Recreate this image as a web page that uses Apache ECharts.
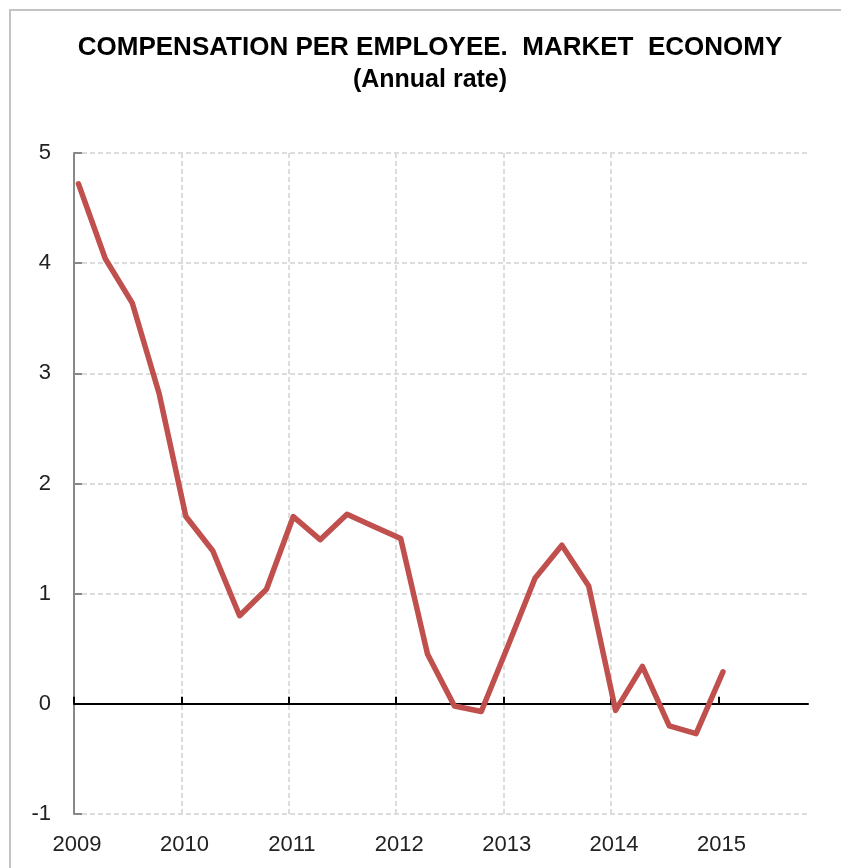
<!DOCTYPE html>
<html>
<head>
<meta charset="utf-8">
<script src="https://cdn.jsdelivr.net/npm/echarts@6/dist/echarts.min.js"></script>
<style>
  html, body { margin: 0; padding: 0; background: #ffffff; }
  #chart { width: 841px; height: 868px; }
</style>
</head>
<body>
<div id="chart"></div>
<script>
// ---- Data ----
const quarters = [
  '2009Q1','2009Q2','2009Q3','2009Q4',
  '2010Q1','2010Q2','2010Q3','2010Q4',
  '2011Q1','2011Q2','2011Q3','2011Q4',
  '2012Q1','2012Q2','2012Q3','2012Q4',
  '2013Q1','2013Q2','2013Q3','2013Q4',
  '2014Q1','2014Q2','2014Q3','2014Q4',
  '2015Q1'
];
const values = [
  4.72, 4.04, 3.64, 2.82,
  1.70, 1.39, 0.80, 1.04,
  1.70, 1.49, 1.72, 1.61,
  1.50, 0.45, -0.02, -0.07,
  0.53, 1.14, 1.44, 1.07,
  -0.06, 0.34, -0.20, -0.27,
  0.29
];
const yearLabels = ['2009','2010','2011','2012','2013','2014','2015'];
const yTicks = [-1, 0, 1, 2, 3, 4, 5];
const titleText = 'COMPENSATION PER EMPLOYEE.  MARKET  ECONOMY';
const subtitleText = '(Annual rate)';

// month offset from Jan 2009 (quarter's first month, mid-month)
function monthOf(q) {
  const y = parseInt(q.slice(0, 4), 10);
  const n = parseInt(q.slice(5), 10);
  return (y - 2009) * 12 + (n - 1) * 3 + 0.5;
}
const baseYear = parseInt(yearLabels[0], 10);
const yearTickValues = yearLabels.map(y => (parseInt(y, 10) - baseYear) * 12);
const seriesData = quarters.map((q, i) => [monthOf(q), values[i]]);

const chart = echarts.init(document.getElementById('chart'), null, { renderer: 'canvas' });
const fontFam = '"Liberation Sans", Arial, Helvetica, sans-serif';

chart.setOption({
  backgroundColor: '#ffffff',
  animation: false,
  graphic: [
    {
      type: 'polyline',
      shape: { points: [[10, 900], [10, 10], [900, 10]] },
      style: { stroke: '#c3c3c3', lineWidth: 2, fill: null },
      silent: true
    }
  ],
  title: [
    {
      text: titleText,
      left: 425, top: 30, textAlign: 'center',
      textStyle: { fontFamily: fontFam, fontWeight: 'bold', fontSize: 26, color: '#000' }
    },
    {
      text: subtitleText,
      left: 425, top: 63, textAlign: 'center',
      textStyle: { fontFamily: fontFam, fontWeight: 'bold', fontSize: 25, color: '#000' }
    }
  ],
  grid: { left: 74, right: 33, top: 153, bottom: 54, containLabel: false },
  xAxis: [
    {
      type: 'value', min: 0, max: 82, position: 'bottom',
      axisLine: { show: false, onZero: false },
      axisTick: { show: false, customValues: yearTickValues },
      axisLabel: {
        customValues: yearTickValues,
        formatter: v => String(baseYear + Math.round(v / 12)),
        fontFamily: fontFam, fontSize: 22, color: '#222', margin: 20,
        padding: [0, 0, 0, 6]
      },
      splitLine: {
        show: true, showMinLine: false, showMaxLine: false,
        lineStyle: { color: '#dcdcdc', width: 2, type: [5, 3] }
      }
    },
    {
      type: 'value', min: 0, max: 82, position: 'bottom', z: 1,
      axisLine: { show: true, onZero: true, lineStyle: { color: '#000', width: 2 } },
      axisTick: { show: true, inside: true, length: 7, customValues: yearTickValues, lineStyle: { color: '#000', width: 2 } },
      axisLabel: { show: false },
      splitLine: { show: false }
    }
  ],
  yAxis: {
    type: 'value', min: yTicks[0], max: yTicks[yTicks.length - 1], interval: 1,
    axisLine: { show: true, onZero: false, lineStyle: { color: '#888', width: 2 } },
    axisTick: { show: true, inside: true, length: 8, lineStyle: { color: '#888', width: 2 } },
    axisLabel: { fontFamily: fontFam, fontSize: 22, color: '#222', margin: 23 },
    splitLine: { show: true, lineStyle: { color: '#dcdcdc', width: 2, type: [5, 3] } }
  },
  series: [
    {
      type: 'line',
      xAxisIndex: 0,
      data: seriesData,
      showSymbol: false,
      symbol: 'none',
      lineStyle: { color: '#c0504d', width: 5.5, join: 'round', cap: 'round' },
      z: 5
    }
  ]
});
</script>
</body>
</html>
